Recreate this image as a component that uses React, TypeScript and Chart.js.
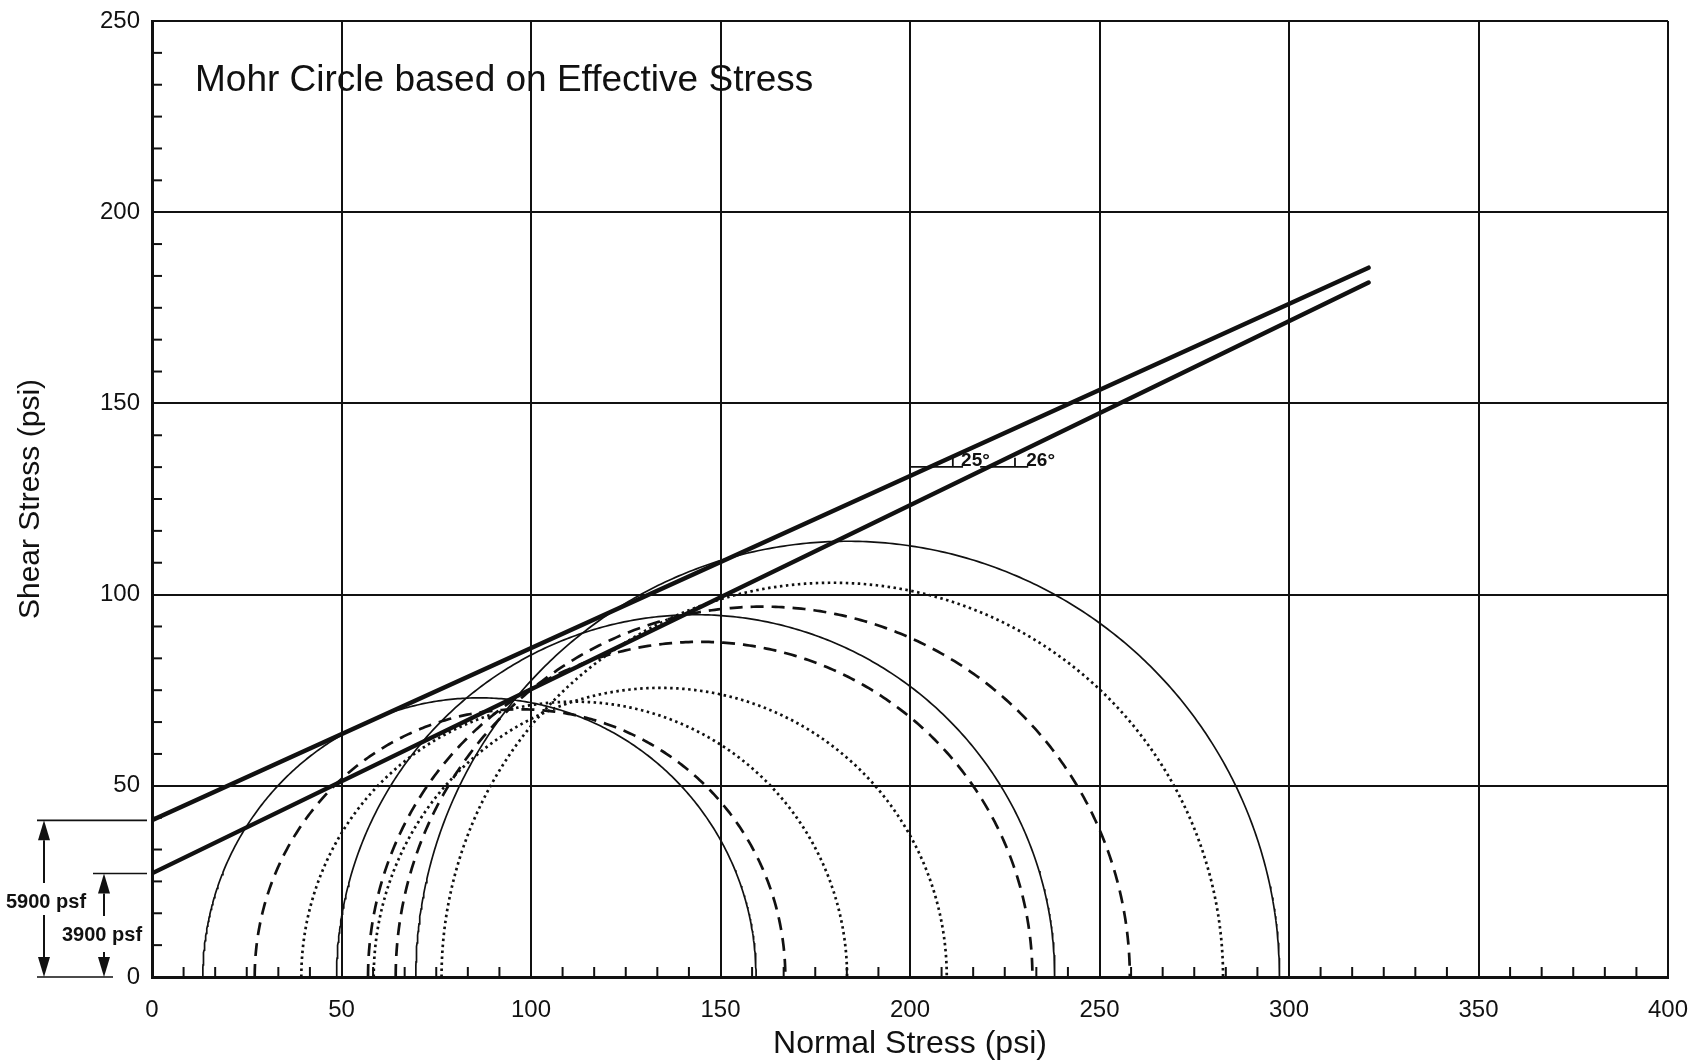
import React, { useEffect, useRef } from 'react';
import { Chart, registerables } from 'chart.js';

Chart.register(...registerables);

// ---- data ----
const chartTitle = 'Mohr Circle based on Effective Stress';
const xAxisTitle = 'Normal Stress (psi)';
const yAxisTitle = 'Shear Stress (psi)';

const xTicks = [0, 50, 100, 150, 200, 250, 300, 350, 400];
const yTicks = [0, 50, 100, 150, 200, 250];

// Mohr circles: minor (sigma3') and major (sigma1') principal effective stresses, psi
const solidSigma3 = [13.4, 48.7, 69.6];
const solidSigma1 = [159.4, 238.2, 297.5];
const dashedSigma3 = [27.1, 57.0, 64.3];
const dashedSigma1 = [167.1, 232.3, 258.0];
const dottedSigma3 = [39.4, 58.5, 76.4];
const dottedSigma1 = [183.4, 209.7, 282.6];

// failure envelopes
const envelopeX = [0, 321];
const upperEnvelopeY = [41.0, 185.5];
const lowerEnvelopeY = [27.1, 181.6];

// cohesion annotations
const cohesionLabels = ['5900 psf', '3900 psf'];
const cohesionPsi = [40.97, 27.08];

// friction-angle marks
const angleLabels = ['25°', '26°'];
const angleLegY = 133.4;
const angleLegStart = [200, 218.5];
const angleLegEnd = [214, 231.2];
const angleTickX = [211.3, 227.7];
const angleTickTop = 135.8;

const FONT = "'Liberation Sans', Arial, Helvetica, sans-serif";
const INK = '#111111';

function halfCircle(s3: number, s1: number) {
  const c = (s1 + s3) / 2;
  const r = (s1 - s3) / 2;
  const pts: { x: number; y: number }[] = [];
  for (let i = 0; i <= 360; i++) {
    const t = Math.PI * (1 - i / 360);
    pts.push({ x: c + r * Math.cos(t), y: r * Math.sin(t) });
  }
  return pts;
}

function drawArrow(ctx: CanvasRenderingContext2D, x: number, yTail: number, yTip: number) {
  const dir = yTip > yTail ? 1 : -1;
  const headLen = 20;
  const halfW = 6;
  const base = yTip - dir * headLen;
  ctx.beginPath();
  ctx.lineWidth = 2;
  ctx.moveTo(x, yTail);
  ctx.lineTo(x, base);
  ctx.stroke();
  ctx.beginPath();
  ctx.moveTo(x, yTip);
  ctx.lineTo(x - halfW, base);
  ctx.lineTo(x + halfW, base);
  ctx.closePath();
  ctx.fill();
}

const annotate = {
  id: 'annotate',
  afterDraw(chart: any) {
    const { ctx, chartArea } = chart;
    const xs = chart.scales.x;
    const ys = chart.scales.y;
    ctx.save();
    ctx.strokeStyle = INK;
    ctx.fillStyle = INK;

    // minor inward ticks
    ctx.lineWidth = 2;
    const minorStep = 50 / 6;
    for (let k = 1; k < 48; k++) {
      if (k % 6 === 0) continue;
      const px = xs.getPixelForValue(k * minorStep);
      ctx.beginPath();
      ctx.moveTo(px, chartArea.bottom);
      ctx.lineTo(px, chartArea.bottom - 10);
      ctx.stroke();
    }
    for (let k = 1; k < 30; k++) {
      if (k % 6 === 0) continue;
      const py = ys.getPixelForValue(k * minorStep);
      ctx.beginPath();
      ctx.moveTo(chartArea.left, py);
      ctx.lineTo(chartArea.left + 10, py);
      ctx.stroke();
    }

    // title inside plot
    ctx.font = `37px ${FONT}`;
    ctx.textAlign = 'left';
    ctx.textBaseline = 'alphabetic';
    ctx.fillText(chartTitle, chartArea.left + 43, chartArea.top + 70);

    // angle labels
    ctx.font = `bold 19px ${FONT}`;
    const legPx = ys.getPixelForValue(angleLegY);
    angleLabels.forEach((lab, i) => {
      ctx.fillText(lab, xs.getPixelForValue(angleLegEnd[i]) - 2, legPx - 1);
    });

    // cohesion dimension annotations (left margin)
    const y0 = ys.getPixelForValue(0);
    const yA = ys.getPixelForValue(cohesionPsi[0]);
    const yB = ys.getPixelForValue(cohesionPsi[1]);
    ctx.lineWidth = 1.6;
    ctx.beginPath();
    ctx.moveTo(37, yA); ctx.lineTo(chartArea.left - 5, yA);
    ctx.moveTo(93, yB); ctx.lineTo(chartArea.left - 5, yB);
    ctx.moveTo(37, y0); ctx.lineTo(113, y0);
    ctx.stroke();

    drawArrow(ctx, 44, y0 - 94, yA);
    drawArrow(ctx, 44, y0 - 62, y0);
    drawArrow(ctx, 104, y0 - 61, yB);
    drawArrow(ctx, 104, y0 - 25, y0);

    ctx.font = `bold 20px ${FONT}`;
    ctx.textAlign = 'left';
    ctx.fillText(cohesionLabels[0], 6, y0 - 69);
    ctx.fillText(cohesionLabels[1], 62, y0 - 36);

    ctx.restore();
  },
};

export default function App() {
  const canvasRef = useRef<HTMLCanvasElement | null>(null);

  useEffect(() => {
    if (!canvasRef.current) return;

    const datasets: any[] = [];
    const addCircles = (s3: number[], s1: number[], style: any) => {
      s3.forEach((v, i) => {
        datasets.push({
          data: halfCircle(v, s1[i]),
          showLine: true,
          pointRadius: 0,
          borderColor: INK,
          tension: 0,
          fill: false,
          ...style,
        });
      });
    };
    addCircles(solidSigma3, solidSigma1, { borderWidth: 1.7 });
    addCircles(dashedSigma3, dashedSigma1, { borderWidth: 2.7, borderDash: [13, 8] });
    addCircles(dottedSigma3, dottedSigma1, { borderWidth: 2.7, borderDash: [2.5, 3.5] });

    [upperEnvelopeY, lowerEnvelopeY].forEach((ys) => {
      datasets.push({
        data: envelopeX.map((x, i) => ({ x, y: ys[i] })),
        showLine: true,
        pointRadius: 0,
        borderColor: INK,
        borderWidth: 4.4,
        borderCapStyle: 'round',
      });
    });

    angleLegStart.forEach((x0, i) => {
      datasets.push({
        data: [{ x: x0, y: angleLegY }, { x: angleLegEnd[i], y: angleLegY }],
        showLine: true, pointRadius: 0, borderColor: INK, borderWidth: 1.8,
      });
      datasets.push({
        data: [{ x: angleTickX[i], y: angleLegY }, { x: angleTickX[i], y: angleTickTop }],
        showLine: true, pointRadius: 0, borderColor: INK, borderWidth: 1.8,
      });
    });

    const chart = new Chart(canvasRef.current, {
      type: 'scatter',
      data: { datasets },
      plugins: [annotate],
      options: {
        responsive: false,
        animation: false,
        layout: { padding: { top: 21, right: 30, left: 0, bottom: 0 } },
        plugins: {
          legend: { display: false },
          tooltip: { enabled: false },
          title: { display: false },
        },
        scales: {
          x: {
            type: 'linear',
            min: 0,
            max: 400,
            afterFit: (s: any) => { s.height = 86; s.paddingLeft = 0; s.paddingRight = 0; },
            afterBuildTicks: (s: any) => { s.ticks = xTicks.map((v) => ({ value: v })); },
            ticks: {
              font: { size: 24, family: FONT },
              color: INK,
              padding: 19,
              maxRotation: 0,
              autoSkip: false,
            },
            grid: { color: INK, lineWidth: 2, drawTicks: false },
            border: { color: INK, width: 3 },
            title: {
              display: true,
              text: xAxisTitle,
              font: { size: 32, family: FONT },
              color: INK,
              padding: { top: 0, bottom: 0 },
            },
          },
          y: {
            type: 'linear',
            min: 0,
            max: 250,
            afterFit: (s: any) => { s.width = 152; s.paddingTop = 0; s.paddingBottom = 0; },
            afterBuildTicks: (s: any) => { s.ticks = yTicks.map((v) => ({ value: v })); },
            ticks: {
              font: { size: 24, family: FONT },
              color: INK,
              padding: 12,
              autoSkip: false,
            },
            grid: { color: INK, lineWidth: 2, drawTicks: false },
            border: { color: INK, width: 3 },
            title: {
              display: true,
              text: yAxisTitle,
              font: { size: 30, family: FONT },
              color: INK,
              padding: { top: 13, bottom: 0 },
            },
          },
        },
      } as any,
    });

    return () => chart.destroy();
  }, []);

  return (
    <div style={{ position: 'fixed', left: 0, top: 0, width: 1698, height: 1063, background: '#fff' }}>
      <canvas ref={canvasRef} width={1698} height={1063} style={{ display: 'block' }} />
    </div>
  );
}
